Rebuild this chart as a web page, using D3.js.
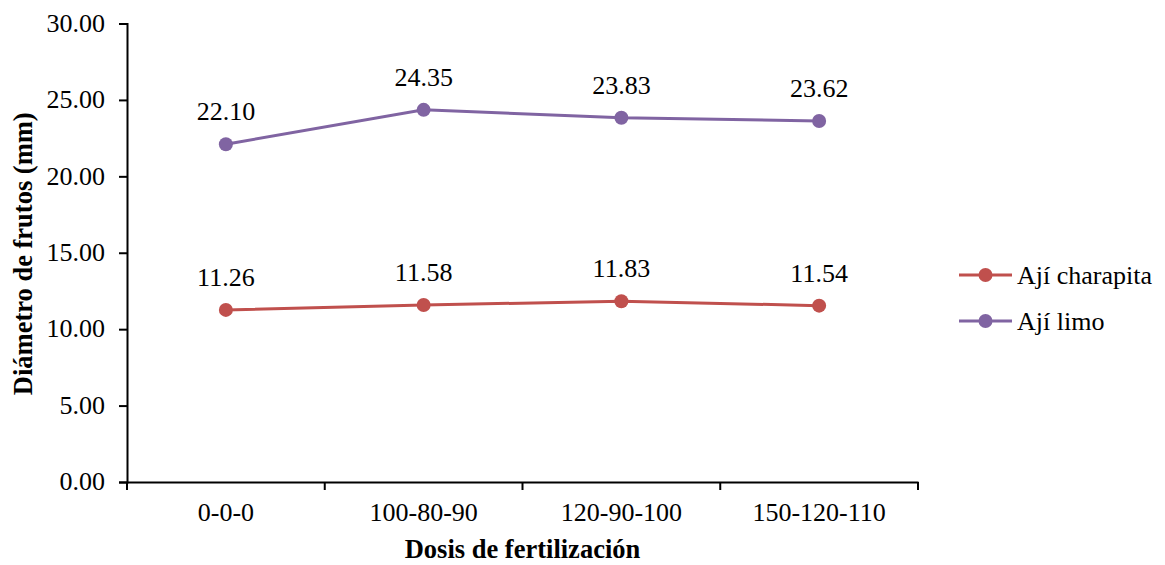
<!DOCTYPE html>
<html><head><meta charset="utf-8">
<script src="https://cdn.jsdelivr.net/npm/d3@7"></script>
</head>
<body style="margin:0;background:#fff;"><svg id="c" width="1165" height="565"></svg>
<script>
const categories = ["0-0-0","100-80-90","120-90-100","150-120-110"];
const charapita = [11.26, 11.58, 11.83, 11.54];
const limo = [22.10, 24.35, 23.83, 23.62];
const yTicks = [0,5,10,15,20,25,30];
const seriesNames = ["Ají charapita","Ají limo"];
const seriesColors = ["#C0504D","#8064A2"];

const FF = "Liberation Serif";
const svg = d3.select("#c");
const L=127, R=918, T=23.5, B=482;
const x = d3.scaleBand().domain(categories).range([L,R]).padding(0);
const y = d3.scaleLinear().domain([0,30]).range([B,T]);
const fs = 26;

// y axis
const ya = svg.append("g").attr("transform",`translate(${L},0)`)
  .call(d3.axisLeft(y).tickValues(yTicks).tickSize(8).tickPadding(14).tickFormat(d=>d.toFixed(2)));
ya.attr("font-family",FF).attr("font-size",fs);
ya.select(".domain").attr("stroke","#000").attr("stroke-width",2);
ya.selectAll(".tick line").attr("stroke","#000").attr("stroke-width",2);
ya.selectAll(".tick text").attr("fill","#000").attr("dy","0.30em");

// x axis
const xa = svg.append("g").attr("transform",`translate(0,${B})`)
  .call(d3.axisBottom(x).tickSize(0).tickPadding(21));
xa.attr("font-family",FF).attr("font-size",fs);
xa.select(".domain").attr("stroke","#000").attr("stroke-width",2);
xa.selectAll(".tick text").attr("fill","#000");
const bounds = categories.map(c=>x(c)).concat([x(categories[categories.length-1])+x.bandwidth()]);
xa.selectAll(".btick").data(bounds).enter().append("line")
  .attr("x1",d=>d).attr("x2",d=>d).attr("y1",0).attr("y2",8)
  .attr("stroke","#000").attr("stroke-width",2);

// axis titles
svg.append("text").attr("x",(L+R)/2).attr("y",558).attr("text-anchor","middle")
  .attr("font-family",FF).attr("font-size",26.5).attr("font-weight","bold").text("Dosis de fertilización");
svg.append("text").attr("transform",`translate(31.5,${(T+B)/2+1}) rotate(-90)`).attr("text-anchor","middle")
  .attr("font-family",FF).attr("font-size",26.5).attr("font-weight","bold").text("Diámetro de frutos (mm)");

const series = [charapita, limo];
const cx = c => x(c)+x.bandwidth()/2;
series.forEach((vals,i)=>{
  const data = categories.map((c,j)=>({c,v:vals[j]}));
  svg.append("path").datum(data)
    .attr("d", d3.line().x(d=>cx(d.c)).y(d=>y(d.v)))
    .attr("fill","none").attr("stroke",seriesColors[i]).attr("stroke-width",3);
  svg.selectAll(null).data(data).enter().append("circle")
    .attr("cx",d=>cx(d.c)).attr("cy",d=>y(d.v)).attr("r",7).attr("fill",seriesColors[i]);
  svg.selectAll(null).data(data).enter().append("text")
    .attr("x",d=>cx(d.c)).attr("y",d=>y(d.v)-24).attr("text-anchor","middle")
    .attr("font-family",FF).attr("font-size",fs).attr("fill","#000").text(d=>d.v.toFixed(2));
});

// legend
const lg = svg.append("g");
seriesNames.forEach((n,i)=>{
  const ly = 275 + i*46;
  lg.append("line").attr("x1",959).attr("x2",1012).attr("y1",ly).attr("y2",ly)
    .attr("stroke",seriesColors[i]).attr("stroke-width",3);
  lg.append("circle").attr("cx",985.5).attr("cy",ly).attr("r",7).attr("fill",seriesColors[i]);
  lg.append("text").attr("x",1017).attr("y",ly+9).attr("font-family",FF).attr("font-size",fs)
    .attr("fill","#000").text(n);
});
</script></body></html>
